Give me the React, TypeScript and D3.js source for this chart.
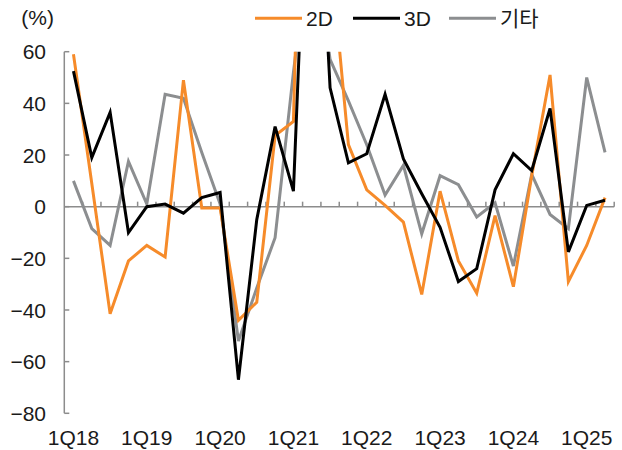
import React, { useEffect, useRef } from "react";
import * as d3 from "d3";

const quarters = [
  "1Q18", "2Q18", "3Q18", "4Q18",
  "1Q19", "2Q19", "3Q19", "4Q19",
  "1Q20", "2Q20", "3Q20", "4Q20",
  "1Q21", "2Q21", "3Q21", "4Q21",
  "1Q22", "2Q22", "3Q22", "4Q22",
  "1Q23", "2Q23", "3Q23", "4Q23",
  "1Q24", "2Q24", "3Q24", "4Q24",
  "1Q25", "2Q25",
];

// 2D (orange)
const twoD = [
  59, 9, -41.5, -21, -15, -19.5, 49, -0.5, -0.5, -44, -37, 27.5, 33, 300, 100,
  24, 6.5, 0.5, -6, -34, 6, -21, -33.5, -3.5, -31, 12, 51, -29, -15, 3.5,
];

// 3D (black)
const threeD = [
  52.5, 19, 36.5, -10, 0, 1, -2.5, 3.5, 5.5, -67, -5, 31, 6, 180, 46,
  17, 20.5, 43.5, 18.5, 5, -8, -29, -24, 6.5, 20.5, 14, 38, -17.5, 0.5, 2.5,
];

// 기타 (gray)
const other = [
  10, -8.5, -15, 17.5, 1, 43.5, 42, 21, 1, -52, -31.5, -12, 52, 110, 57,
  41, 24, 4.5, 16, -10.5, 12, 8.5, -4, 1.5, -23, 12.5, -3, -8.5, 50, 21,
];

const yTicks = [60, 40, 20, 0, -20, -40, -60, -80];
const xLabels = ["1Q18", "1Q19", "1Q20", "1Q21", "1Q22", "1Q23", "1Q24", "1Q25"];

const seriesNames = ["2D", "3D", "기타"];
const seriesColors = ["#F68B2A", "#000000", "#8C8E90"];

const W = 622;
const H = 450;
const FONT = "'Liberation Sans', 'Noto Sans CJK KR', sans-serif";

export default function App() {
  const ref = useRef<SVGSVGElement | null>(null);

  useEffect(() => {
    if (!ref.current) return;
    const svg = d3.select(ref.current);
    svg.selectAll("*").remove();

    const left = 64.3;
    const right = 614.2;
    const top = 51.7;
    const bottom = 413.3;

    const x = d3.scaleBand<string>().domain(quarters).range([left, right]);
    const y = d3.scaleLinear().domain([-80, 60]).range([bottom, top]);
    const cx = (q: string) => (x(q) as number) + x.bandwidth() / 2;

    svg
      .append("defs")
      .append("clipPath")
      .attr("id", "plot-clip")
      .append("rect")
      .attr("x", left)
      .attr("y", top)
      .attr("width", W - left)
      .attr("height", bottom - top + 10);

    const axisColor = "#8C8C8C";

    // y axis
    svg
      .append("line")
      .attr("x1", left)
      .attr("x2", left)
      .attr("y1", y(60))
      .attr("y2", y(-80))
      .attr("stroke", axisColor)
      .attr("stroke-width", 1.5);

    svg
      .selectAll("line.ytick")
      .data(yTicks)
      .enter()
      .append("line")
      .classed("ytick", true)
      .attr("x1", left)
      .attr("x2", left + 5)
      .attr("y1", (d) => y(d))
      .attr("y2", (d) => y(d))
      .attr("stroke", axisColor)
      .attr("stroke-width", 1.5);

    svg
      .selectAll("text.ylab")
      .data(yTicks)
      .enter()
      .append("text")
      .classed("ylab", true)
      .attr("x", 46)
      .attr("y", (d) => y(d))
      .attr("dy", "0.36em")
      .attr("text-anchor", "end")
      .attr("font-family", FONT)
      .attr("font-size", 21)
      .attr("fill", "#1a1a1a")
      .text((d) => (d < 0 ? "\u2212" + Math.abs(d) : String(d)));

    svg
      .append("text")
      .attr("x", 54)
      .attr("y", 17)
      .attr("dy", "0.36em")
      .attr("text-anchor", "end")
      .attr("font-family", FONT)
      .attr("font-size", 21)
      .attr("fill", "#1a1a1a")
      .text("(%)");

    // x axis at zero
    svg
      .append("line")
      .attr("x1", left)
      .attr("x2", right)
      .attr("y1", y(0))
      .attr("y2", y(0))
      .attr("stroke", axisColor)
      .attr("stroke-width", 1.5);

    svg
      .selectAll("line.xtick")
      .data(quarters)
      .enter()
      .append("line")
      .classed("xtick", true)
      .attr("x1", (d) => (x(d) as number) + x.bandwidth())
      .attr("x2", (d) => (x(d) as number) + x.bandwidth())
      .attr("y1", y(0))
      .attr("y2", y(0) - 5)
      .attr("stroke", axisColor)
      .attr("stroke-width", 1.5);

    svg
      .selectAll("text.xlab")
      .data(xLabels)
      .enter()
      .append("text")
      .classed("xlab", true)
      .attr("x", (d) => cx(d))
      .attr("y", 437)
      .attr("dy", "0.36em")
      .attr("text-anchor", "middle")
      .attr("font-family", FONT)
      .attr("font-size", 21)
      .attr("fill", "#1a1a1a")
      .text((d) => d);

    // lines
    const allSeries = [other, twoD, threeD];
    const colorsInOrder = [seriesColors[2], seriesColors[0], seriesColors[1]];
    const line = d3
      .line<number>()
      .x((_, i) => cx(quarters[i]))
      .y((d) => y(d));

    const g = svg.append("g").attr("clip-path", "url(#plot-clip)");
    allSeries.forEach((s, i) => {
      g.append("path")
        .attr("d", line(s) as string)
        .attr("fill", "none")
        .attr("stroke", colorsInOrder[i])
        .attr("stroke-width", 3)
        .attr("stroke-linejoin", "miter");
    });

    // legend
    const legendX = [255, 353, 449];
    seriesNames.forEach((name, i) => {
      svg
        .append("line")
        .attr("x1", legendX[i])
        .attr("x2", legendX[i] + 47)
        .attr("y1", 18.3)
        .attr("y2", 18.3)
        .attr("stroke", seriesColors[i])
        .attr("stroke-width", 3);
      svg
        .append("text")
        .attr("x", legendX[i] + 51)
        .attr("y", 18.3)
        .attr("dy", "0.36em")
        .attr("font-family", FONT)
        .attr("font-size", 21)
        .attr("fill", "#1a1a1a")
        .text(name);
    });
  }, []);

  return (
    <svg
      ref={ref}
      width={W}
      height={H}
      style={{ position: "absolute", left: 0, top: 0, background: "#fff" }}
    />
  );
}
